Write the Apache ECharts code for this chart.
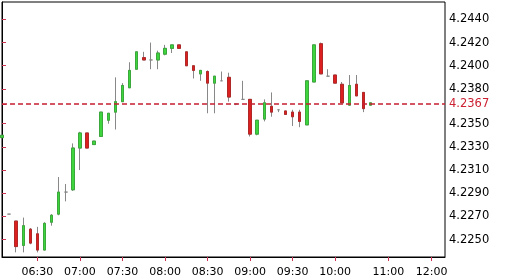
<!DOCTYPE html>
<html>
<head>
<meta charset="utf-8">
<script src="https://cdn.jsdelivr.net/npm/echarts@6/dist/echarts.min.js"></script>
<style>
html,body{margin:0;padding:0;background:#fff;}
#chart{width:510px;height:280px;}
</style>
</head>
<body>
<div id="chart"></div>
<script>
// 5-minute candles, first at 06:05
var times = ['06:05','06:10','06:15','06:20','06:25','06:30','06:35','06:40','06:45','06:50','06:55','07:00','07:05','07:10','07:15','07:20','07:25','07:30','07:35','07:40','07:45','07:50','07:55','08:00','08:05','08:10','08:15','08:20','08:25','08:30','08:35','08:40','08:45','08:50','08:55','09:00','09:05','09:10','09:15','09:20','09:25','09:30','09:35','09:40','09:45','09:50','09:55','10:00','10:05','10:10','10:15','10:20','10:25'];
var opens  = [4.2338,4.2272,4.2266,4.2245,4.2259,4.2255,4.2241,4.2265,4.2272,4.2291,4.2293,4.2329,4.2342,4.2332,4.2339,4.2353,4.2360,4.2369,4.2381,4.2397,4.2407,4.2405,4.2405,4.2410,4.2415,4.2418,4.2412,4.2400,4.2393,4.2395,4.2385,4.2387,4.2390,4.2367,4.2371,4.2371,4.2341,4.2354,4.2365,4.2362,4.2361,4.2360,4.2360,4.2349,4.2386,4.2419,4.2391,4.2392,4.2384,4.2366,4.2384,4.2377,4.2366];
var closes = [4.2340,4.2272,4.2244,4.2262,4.2247,4.2241,4.2264,4.2271,4.2291,4.2291,4.2329,4.2342,4.2329,4.2335,4.2360,4.2359,4.2369,4.2383,4.2396,4.2412,4.2405,4.2405,4.2411,4.2415,4.2418,4.2415,4.2400,4.2396,4.2396,4.2385,4.2391,4.2387,4.2373,4.2367,4.2371,4.2341,4.2353,4.2368,4.2360,4.2362,4.2358,4.2356,4.2352,4.2387,4.2418,4.2393,4.2391,4.2385,4.2368,4.2383,4.2374,4.2363,4.2368];
var lows   = [4.2338,4.2272,4.2239,4.2239,4.2246,4.2239,4.2241,4.2262,4.2271,4.2283,4.2292,4.2310,4.2329,4.2332,4.2339,4.2350,4.2345,4.2369,4.2381,4.2397,4.2405,4.2397,4.2397,4.2409,4.2411,4.2415,4.2400,4.2389,4.2387,4.2359,4.2359,4.2387,4.2369,4.2366,4.2371,4.2339,4.2340,4.2352,4.2356,4.2360,4.2358,4.2348,4.2347,4.2349,4.2386,4.2393,4.2391,4.2385,4.2368,4.2366,4.2374,4.2360,4.2366];
var highs  = [4.2340,4.2272,4.2266,4.2269,4.2260,4.2261,4.2265,4.2272,4.2304,4.2298,4.2333,4.2343,4.2342,4.2335,4.2360,4.2359,4.2390,4.2385,4.2403,4.2412,4.2412,4.2420,4.2413,4.2418,4.2418,4.2418,4.2412,4.2400,4.2396,4.2396,4.2391,4.2395,4.2394,4.2367,4.2387,4.2371,4.2353,4.2371,4.2377,4.2362,4.2361,4.2362,4.2362,4.2387,4.2418,4.2420,4.2397,4.2392,4.2386,4.2392,4.2392,4.2377,4.2368];

var xTickLabels = ['06:30','07:00','07:30','08:00','08:30','09:00','09:30','10:00','11:00','12:00'];
var futureTickSlots = {'11:00': 54.5, '12:00': 60.6};
var yTickValues = [4.2250,4.2270,4.2290,4.2310,4.2330,4.2350,4.2380,4.2400,4.2420,4.2440];
var lastPrice = 4.2367;

var xTickSlots = xTickLabels.map(function (t) {
  var i = times.indexOf(t);
  return i >= 0 ? i : futureTickSlots[t];
});
var slotLabel = {};
xTickSlots.forEach(function (s, i) { slotLabel[s] = xTickLabels[i]; });

var wickData = [], bodyData = [];
for (var i = 0; i < times.length; i++) {
  var o = opens[i], c = closes[i];
  wickData.push([i, o, c, lows[i], highs[i]]);
  if (o !== c) bodyData.push([i, o, c, Math.min(o, c), Math.max(o, c)]);
}

var FONT = 'DejaVu Sans';
var yVals = yTickValues.concat([lastPrice]);

var chart = echarts.init(document.getElementById('chart'), null, {renderer: 'canvas'});
chart.setOption({
  animation: false,
  backgroundColor: '#fff',
  grid: {left: 2, right: 65, top: 2, bottom: 23, show: true, borderColor: '#000', borderWidth: 1, backgroundColor: 'transparent'},
  xAxis: {
    type: 'value', min: 0, max: 62.5,
    axisLine: {show: true, lineStyle: {color: '#000', width: 1}},
    axisTick: {show: true, length: 4, customValues: xTickSlots, lineStyle: {color: '#cc3355'}},
    axisLabel: {
      customValues: xTickSlots, margin: 10, color: '#000', fontSize: 11, fontFamily: FONT,
      formatter: function (v) { return slotLabel[v] || ''; }
    },
    splitLine: {show: false}
  },
  yAxis: {
    type: 'value', position: 'right', min: 4.2235, max: 4.2455,
    axisLine: {show: true, lineStyle: {color: '#000', width: 1}},
    axisTick: {show: true, length: 4, customValues: yVals, lineStyle: {color: '#cc3355'}},
    axisLabel: {
      customValues: yVals, margin: 4, fontSize: 11.5, fontFamily: FONT,
      formatter: function (v) { return v.toFixed(4); },
      color: function (v) { return Math.abs(v - lastPrice) < 1e-7 ? '#cc2233' : '#000'; }
    },
    splitLine: {show: false}
  },
  series: [
    {
      type: 'candlestick', data: wickData, barWidth: 3,
      encode: {x: 0, y: [1, 2, 3, 4]},
      itemStyle: {color: 'transparent', color0: 'transparent', borderColor: '#888', borderColor0: '#888', borderColorDoji: '#888', borderWidth: 1}
    },
    {
      type: 'candlestick', data: bodyData, barWidth: 3,
      encode: {x: 0, y: [1, 2, 3, 4]},
      itemStyle: {color: '#3ed43e', color0: '#dc2020', borderColor: '#3aa83a', borderColor0: '#b02828', borderWidth: 1},
      markLine: {
        silent: true, symbol: ['none', 'none'], animation: false, z: 10,
        label: {show: false},
        emphasis: {disabled: true},
        lineStyle: {color: '#c42030', type: [5, 3], width: 1.5, opacity: 1},
        data: [[{coord: [0, lastPrice]}, {coord: [62.5, lastPrice]}]]
      }
    }
  ]
});
</script>
</body>
</html>
